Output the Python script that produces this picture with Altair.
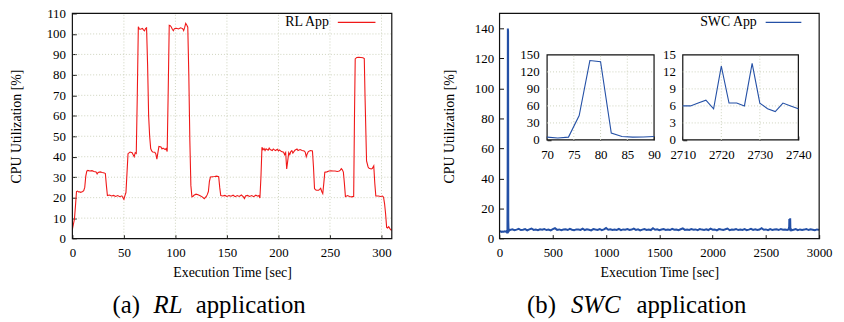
import altair as alt
import pandas as pd

# ---------------- data ----------------
rl_t = [0, 1, 2, 3, 4, 5, 6, 7, 8, 9,
        10, 11, 12, 13, 14, 15, 17, 19, 21, 23,
        24, 25, 27, 29, 31, 32, 33, 34, 36, 38,
        40, 42, 44, 46, 48, 50, 51, 52, 53, 54,
        56, 58, 59, 60, 61, 62, 63, 64, 65, 66,
        68, 69, 70, 71, 72, 73, 74, 75, 76, 77,
        78, 80, 81, 82, 83, 84, 86, 87, 88, 90,
        91, 92, 93, 94, 95, 96, 97, 98, 99, 101,
        103, 105, 107, 108, 109, 110, 111, 112, 113, 114,
        115, 116, 117, 118, 120, 122, 124, 126, 128, 130,
        131, 132, 133, 134, 136, 138, 140, 142, 143, 144,
        146, 148, 150, 152, 154, 156, 158, 160, 162, 164,
        166, 167, 168, 170, 172, 174, 176, 178, 180, 181,
        182, 183, 184, 185, 186, 187, 188, 190, 191, 192,
        194, 195, 197, 199, 200, 201, 203, 205, 206, 207,
        208, 209, 210, 211, 212, 213, 214, 216, 218, 219,
        221, 223, 225, 226, 227, 228, 229, 231, 233, 234,
        235, 236, 237, 239, 240, 241, 242, 243, 244, 245,
        247, 249, 251, 253, 255, 257, 259, 260, 261, 262,
        263, 264, 265, 267, 269, 271, 272, 273, 273.8, 274.5,
        276, 278, 280, 282, 283.3, 284, 285.5, 287, 288, 290,
        291, 292.5, 293.5, 294.5, 297, 299, 301, 302, 303, 304,
        305, 306, 307, 308, 309, 310]
rl_v = [4.5, 7, 9.5, 16, 23, 23.2, 22.8, 22.9, 22.6, 22.8,
        23, 23.4, 25, 30.5, 33, 33.3, 33, 33.2, 32.8, 32.6,
        31.6, 32.3, 32.6, 32.3, 32.1, 31.8, 26, 21, 21.3, 20.8,
        21.1, 20.6, 21, 20.5, 20.9, 19.2, 21, 22.5, 32, 41.5,
        42.3, 42, 41, 40, 42, 41.6, 70, 103.5, 102.4, 102.3,
        102.7, 102, 101.5, 102.6, 103, 85, 60, 50, 44, 42.8,
        42.3, 42.2, 41.4, 38.8, 42, 45, 44.8, 43.8, 44.2, 43.5,
        44, 42.5, 72, 104.2, 104, 103.4, 102.3, 101.6, 102.6, 102.8,
        102.4, 103, 102.6, 101.6, 103.2, 105.2, 104.4, 103.3, 80, 48,
        26, 20.4, 20.6, 21.2, 21.7, 21.4, 20.9, 20.4, 19.5, 20.6,
        21.6, 23, 28, 30.1, 30.2, 30.3, 30.5, 30.2, 25, 21,
        20.8, 21.1, 20.6, 21, 20.7, 21.2, 20.5, 21, 20.6, 21.3,
        20.4, 19.6, 20.8, 21.1, 20.6, 21, 20.5, 21.2, 20.7, 21,
        19.8, 30, 44.6, 43.4, 44, 43, 43.9, 43.2, 44.2, 43.5,
        43, 43.8, 43, 43.6, 42.8, 43.3, 42.5, 42.2, 41, 42,
        34, 38, 42, 41, 42.5, 43, 41.8, 43.2, 43.8, 43,
        43.5, 43, 42.8, 42.2, 40, 41.5, 42.5, 43, 42.8, 35,
        24.5, 23.8, 23.6, 23.6, 24, 24.6, 23, 22, 27, 32.4,
        32.6, 33, 33.1, 33, 33, 32.8, 33, 33.5, 34.2, 33.6,
        32.5, 27, 20.5, 21, 20.6, 20.4, 20.5, 20.6, 60, 87.8,
        88.5, 88.6, 88.5, 88.4, 88, 70, 38, 35, 34.3, 34,
        34.2, 35.5, 27, 20.8, 20.8, 20.6, 20.8, 20.2, 17, 12,
        5.5, 5.2, 5.8, 5, 4.3, 4]
assert len(rl_t) == len(rl_v)

swc_pre_t = [0, 10, 20, 30, 40, 50, 60, 66, 68]
swc_pre_v = [4.6, 4.8, 4.5, 4.7, 4.6, 4.9, 4.6, 4.8, 5.0]
swc_spike1_t = [70, 72, 74, 76, 78, 80, 82, 84, 86, 88, 90]
swc_spike1_v = [5, 3.5, 5, 43, 140, 138, 12, 6, 5, 5.2, 6]
swc_mid_t = list(range(100, 2701, 20))
swc_mid_v = [5.8, 6.2, 5.6, 6.0, 6.5, 5.7, 5.9, 6.3, 5.5, 6.1,
             6.7, 5.8, 6.0, 5.6, 6.2, 5.9, 6.4, 5.7, 6.0, 5.5,
             6.3, 6.9, 5.8, 6.1, 5.6, 6.0, 6.2, 5.7, 6.5, 5.9,
             5.6, 6.1, 6.0, 5.8, 6.6, 5.7, 6.2, 5.9, 5.5, 6.3,
             6.0, 5.8, 6.4, 5.6, 6.1, 7.0, 5.9, 6.2, 5.7, 6.0,
             5.8, 6.5, 5.6, 6.1, 5.9, 6.3, 5.7, 6.0, 6.6, 5.8,
             6.2, 5.5, 6.0, 6.4, 5.8, 6.1, 5.7, 6.9, 5.9, 6.2,
             5.6, 6.0, 6.3, 5.8, 6.1, 5.7, 6.5, 5.9, 6.0, 5.6,
             6.2, 6.8, 5.8, 6.0, 5.7, 6.3, 5.9, 6.1, 5.6, 6.4,
             6.0, 5.8, 6.2, 5.7, 6.6, 5.9, 6.1, 5.5, 6.3, 6.0,
             5.8, 6.2, 6.7, 5.6, 6.0, 5.9, 6.4, 5.7, 6.1, 5.8,
             6.3, 5.6, 6.0, 6.5, 5.8, 6.2, 5.7, 6.0, 6.9, 5.9,
             6.1, 5.6, 6.3, 5.8, 6.0, 6.2, 5.7, 6.4, 5.9, 6.1,
             5.8]
swc_spike2_t = [2710, 2712, 2714, 2716, 2718, 2720, 2722, 2724,
                2726, 2728, 2730, 2732, 2734, 2736, 2738, 2740]
swc_spike2_v = [6, 6, 6.5, 7, 5.5, 13, 6.5, 6.5, 6, 13.5, 6.5, 5.5, 5, 6.5, 6, 5.5]
swc_post_t = list(range(2760, 3001, 20))
swc_post_v = [5.9, 6.3, 5.6, 6.1, 5.8, 6.0, 6.4, 5.7, 6.2, 5.9, 5.6, 6.1, 5.8]

swc_t = swc_pre_t + swc_spike1_t + swc_mid_t + swc_spike2_t + swc_post_t
swc_v = swc_pre_v + swc_spike1_v + swc_mid_v + swc_spike2_v + swc_post_v
assert len(swc_t) == len(swc_v)

rl_xticks = [0, 50, 100, 150, 200, 250, 300]
rl_yticks = [0, 10, 20, 30, 40, 50, 60, 70, 80, 90, 100, 110]
swc_xticks = [0, 500, 1000, 1500, 2000, 2500, 3000]
swc_yticks = [0, 20, 40, 60, 80, 100, 120, 140]
in1_xticks = [70, 75, 80, 85, 90]
in1_yticks = [0, 30, 60, 90, 120, 150]
in2_xticks = [2710, 2720, 2730, 2740]
in2_yticks = [0, 3, 6, 9, 12, 15]

rl_dom_x, rl_dom_y = [0, 310], [0, 110]
swc_dom_x, swc_dom_y = [0, 3000], [0, 150]
in1_dom_x, in1_dom_y = [70, 90], [0, 150]
in2_dom_x, in2_dom_y = [2710, 2740], [0, 15]

# ---------------- layout / style ----------------
FONT = "'Liberation Serif', 'Times New Roman', Times, 'DejaVu Serif', serif"
W, H = 836, 314
TICK = 4
RED = "#f01818"
BLUE = "#2450a6"
GRID = "#cdd2bd"

PL = dict(x0=65, x1=387.5, y0=4, y1=231.3)
PR = dict(x0=496.3, x1=819, y0=4, y1=231.3)
P1 = dict(x0=544.3, x1=652.3, y0=45.8, y1=131.7)
P2 = dict(x0=681.3, x1=798, y0=45.8, y1=131.7)

df_rl = pd.DataFrame({"t": rl_t, "v": rl_v})
df_swc = pd.DataFrame({"t": swc_t, "v": swc_v})
one = pd.DataFrame({"k": [0]})


def scales(p, dx, dy):
    xs = alt.Scale(domain=dx, range=[p["x0"], p["x1"]], nice=False, zero=False)
    ys = alt.Scale(domain=dy, range=[p["y1"], p["y0"]], nice=False, zero=False)
    return xs, ys


def x_axis(p, values, pad, title=None, title_y=0):
    args = dict(values=values, orient="bottom", offset=p["y1"] - TICK - H,
                labelPadding=pad, format="d")
    if title:
        args.update(title=title, titleX=(p["x0"] + p["x1"]) / 2, titleY=title_y,
                    titleAngle=0, titleBaseline="middle", titleAlign="center")
    else:
        args["title"] = None
    return alt.Axis(**args)


def y_axis(p, values, pad, title=None, title_x=0):
    args = dict(values=values, orient="left", offset=-(p["x0"] + TICK),
                labelPadding=pad, format="d")
    if title:
        args.update(title=title, titleX=title_x, titleY=(p["y0"] + p["y1"]) / 2,
                    titleAngle=270, titleBaseline="middle", titleAlign="center")
    else:
        args["title"] = None
    return alt.Axis(**args)


def grid_layers(xs, ys, dx, dy, xv, yv):
    vg = alt.Chart(pd.DataFrame({"g": xv})).mark_rule(
        color=GRID, strokeDash=[1, 2], strokeWidth=1).encode(
        x=alt.X("g:Q", scale=xs, axis=None),
        y=alt.YDatum(dy[0], scale=ys, axis=None), y2=alt.Y2Datum(dy[1]))
    hg = alt.Chart(pd.DataFrame({"g": yv})).mark_rule(
        color=GRID, strokeDash=[1, 2], strokeWidth=1).encode(
        y=alt.Y("g:Q", scale=ys, axis=None),
        x=alt.XDatum(dx[0], scale=xs, axis=None), x2=alt.X2Datum(dx[1]))
    return [vg, hg]


def frame(xs, ys, dx, dy, fill_op):
    return alt.Chart(one).mark_rect(fill="white", fillOpacity=fill_op,
                                    stroke="#111111", strokeWidth=1.2).encode(
        x=alt.XDatum(dx[0], scale=xs, axis=None), x2=alt.X2Datum(dx[1]),
        y=alt.YDatum(dy[0], scale=ys, axis=None), y2=alt.Y2Datum(dy[1]))


def legend(label, color, text_right, line_x0, line_x1, yy):
    txt = alt.Chart(one).mark_text(font=FONT, fontSize=14, align="right",
                                   baseline="middle", color="black").encode(
        x=alt.value(text_right), y=alt.value(yy), text=alt.value(label))
    ln = alt.Chart(one).mark_rule(color=color, strokeWidth=1.2).encode(
        x=alt.value(line_x0), x2=alt.value(line_x1), y=alt.value(yy))
    return [txt, ln]


def panel(*layers):
    return alt.layer(*layers).resolve_axis(x="independent", y="independent")


# ---------------- left panel (RL) ----------------
xs, ys = scales(PL, rl_dom_x, rl_dom_y)
rl_line = alt.Chart(df_rl).mark_line(color=RED, strokeWidth=1.1).encode(
    x=alt.X("t:Q", scale=xs, axis=x_axis(PL, rl_xticks, 8.5, "Execution Time [sec]", 38)),
    y=alt.Y("v:Q", scale=ys, axis=y_axis(PL, rl_yticks, 7, "CPU Utilization [%]", -60)))
left = panel(
    *grid_layers(xs, ys, rl_dom_x, rl_dom_y, rl_xticks[1:], rl_yticks[1:-1]),
    rl_line,
    frame(xs, ys, rl_dom_x, rl_dom_y, 0),
    *legend("RL App", RED, 324, 333, 371, 13),
)

# ---------------- right panel (SWC) ----------------
xs2, ys2 = scales(PR, swc_dom_x, swc_dom_y)
swc_line = alt.Chart(df_swc).mark_line(color=BLUE, strokeWidth=2.0).encode(
    x=alt.X("t:Q", scale=xs2, axis=x_axis(PR, swc_xticks, 8.5, "Execution Time [sec]", 38)),
    y=alt.Y("v:Q", scale=ys2, axis=y_axis(PR, swc_yticks, 6, "CPU Utilization [%]", -54)))
right = panel(
    swc_line,
    frame(xs2, ys2, swc_dom_x, swc_dom_y, 0),
    *legend("SWC App", BLUE, 756, 765, 801, 13),
)

# ---------------- inset 1 ----------------
xs3, ys3 = scales(P1, in1_dom_x, in1_dom_y)
in1_line = alt.Chart(df_swc).transform_filter(
    (alt.datum.t >= in1_dom_x[0]) & (alt.datum.t <= in1_dom_x[1])
).mark_line(color=BLUE, strokeWidth=1.1).encode(
    x=alt.X("t:Q", scale=xs3, axis=x_axis(P1, in1_xticks, 8.5)),
    y=alt.Y("v:Q", scale=ys3, axis=y_axis(P1, in1_yticks, 8)))
inset1 = panel(
    frame(xs3, ys3, in1_dom_x, in1_dom_y, 1),
    *grid_layers(xs3, ys3, in1_dom_x, in1_dom_y, in1_xticks[1:-1], in1_yticks[1:-1]),
    in1_line,
)

# ---------------- inset 2 ----------------
xs4, ys4 = scales(P2, in2_dom_x, in2_dom_y)
in2_line = alt.Chart(df_swc).transform_filter(
    (alt.datum.t >= in2_dom_x[0]) & (alt.datum.t <= in2_dom_x[1])
).mark_line(color=BLUE, strokeWidth=1.1).encode(
    x=alt.X("t:Q", scale=xs4, axis=x_axis(P2, in2_xticks, 8.5)),
    y=alt.Y("v:Q", scale=ys4, axis=y_axis(P2, in2_yticks, 7.5)))
inset2 = panel(
    frame(xs4, ys4, in2_dom_x, in2_dom_y, 1),
    *grid_layers(xs4, ys4, in2_dom_x, in2_dom_y, in2_xticks[1:-1], in2_yticks[1:-1]),
    in2_line,
)


# ---------------- captions ----------------
def cap(text, xx, italic=False):
    kw = dict(font=FONT, fontSize=25, align="center", baseline="alphabetic", color="black")
    if italic:
        kw["fontStyle"] = "italic"
    return alt.Chart(one).mark_text(**kw).encode(
        x=alt.value(xx), y=alt.value(306), text=alt.value(text))


captions = alt.layer(
    cap("(a)", 119.5), cap("RL", 161.5, True), cap("application", 245),
    cap("(b)", 538.7), cap("SWC", 593.4, True), cap("application", 690),
)

chart = alt.layer(left, right, inset1, inset2, captions).resolve_scale(
    x="independent", y="independent"
).resolve_axis(
    x="independent", y="independent"
).properties(
    width=W, height=H, padding=0,
    autosize=alt.AutoSizeParams(type="none"),
).configure_view(
    strokeWidth=0
).configure_axis(
    labelFont=FONT, labelFontSize=13, labelColor="black",
    titleFont=FONT, titleFontSize=14, titleColor="black", titleFontWeight="normal",
    tickColor="#111111", tickSize=TICK, tickWidth=1,
    domain=False, grid=False, labelFlush=False, labelOverlap=False,
)

chart.save("out.html", embed_options={"renderer": "svg", "actions": False})
